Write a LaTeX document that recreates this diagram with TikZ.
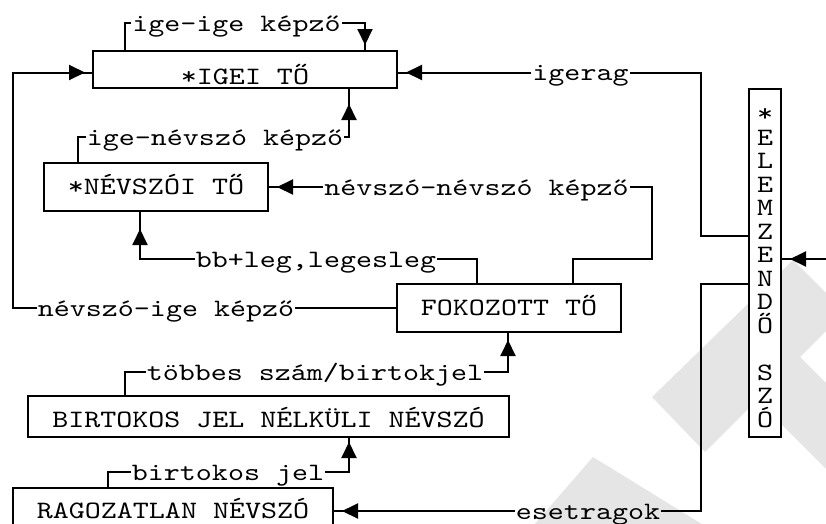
\documentclass[tikz,border=0pt]{standalone}
\usepackage{fontspec}
\newfontfamily\cour{lmmono10-regular}[Extension=.otf, FakeStretch=1.22]
\usetikzlibrary{arrows.meta,decorations.markings}
\begin{document}
\begin{tikzpicture}[x=1pt,y=-1pt,
  wire/.style={line width=2pt, line join=miter},
  framebox/.style={draw, line width=2pt, fill=white, inner sep=0pt,
    text height=15pt, text depth=0pt, font=\cour\fontsize{25}{30}\selectfont},
  tag/.style={inner xsep=1pt, inner ysep=0pt, text height=16pt, text depth=0pt,
    font=\cour\fontsize{25}{30}\selectfont},
  letter/.style={inner sep=0pt, text height=15pt, text depth=0pt,
    font=\cour\fontsize{25}{30}\selectfont},
  tipat/.style={postaction={decorate}, decoration={markings,
    mark=at position -#1 with {\arrow{Triangle[length=16pt,width=15pt]}}}},
  wmark/.style={fill=black!10}
]
\useasboundingbox (0,0) rectangle (826,523);
\clip (0,0) rectangle (826,523);

% light background marks
\fill[wmark] (652,397) -- (793,260) -- (826,293) -- (826,331) -- (800,357)
        -- (826,383) -- (826,469) -- (757,400) -- (705,452) -- cycle;
\fill[wmark] (593,457) -- (705,526) -- (533,526) -- cycle;

% boxes
\node[framebox, text height=29pt, minimum width=304pt, minimum height=37pt] (igei) at (245,69.5) {*IGEI TŐ};
\node[framebox, minimum width=224pt, minimum height=48pt] (nev) at (156,187) {*NÉVSZÓI TŐ};
\node[framebox, minimum width=224pt, minimum height=48pt] (fok) at (509,308) {FOKOZOTT TŐ};
\node[framebox, text height=21pt, minimum width=481pt, minimum height=41pt] (birt) at (268.5,416.5) {BIRTOKOS JEL NÉLKÜLI NÉVSZÓ};
\node[framebox, minimum width=320pt, minimum height=46pt] (rag) at (173,511) {RAGOZATLAN NÉVSZÓ};
\node[framebox, minimum width=32pt, minimum height=348pt] (elem) at (765,263) {};
\foreach \ch/\k in {*/0,E/1,L/2,E/3,M/4,Z/5,E/6,N/7,D/8,Ő/9,S/11,Z/12,Ó/13}
  \node[letter, anchor=base] (e\k) at (765,{121.5+23.5*\k}) {\ch};

% connector labels
\node[tag] (l1) at (236.5,23) {ige-ige képző};
\node[tag] (l2) at (215,137) {ige-névszó képző};
\node[tag] (l3) at (476.5,187) {névszó-névszó képző};
\node[tag] (l4) at (316,259) {bb+leg,legesleg};
\node[tag] (l5) at (166,308) {névszó-ige képző};
\node[tag] (l6) at (580.5,72.5) {igerag};
\node[tag] (l7) at (315,372) {többes szám/birtokjel};
\node[tag] (l8) at (228,472) {birtokos jel};
\node[tag] (l9) at (588,511) {esetragok};

% connectors
\draw[wire] (125,0 |- igei.north) |- (l1.west);
\draw[wire, tipat=5pt] (l1.east) -| (365,0 |- igei.north);

\draw[wire] (l2.west) -| (78,0 |- nev.north);
\draw[wire, tipat=15pt] (l2.east) -| (349,0 |- igei.south);

\draw[wire] (573,0 |- fok.north) |- (652,259) |- (l3.east);
\draw[wire, tipat=8pt] (l3.west) -- (nev.east);

\draw[wire] (477,0 |- fok.north) |- (l4.east);
\draw[wire, tipat=17pt] (l4.west) -| (140,0 |- nev.south);

\draw[wire] (fok.west) -- (l5.east);
\draw[wire, tipat=7pt] (l5.west) -| (13,72.5) -- (13,72.5 -| igei.west);

\draw[wire] (elem.west |- 0,236) -| (701,72.5) -- (l6.east);
\draw[wire, tipat=8pt] (l6.west) -- (l6.west -| igei.east);

\draw[wire] (125,0 |- birt.north) |- (l7.west);
\draw[wire, tipat=7pt] (l7.east) -| (508,0 |- fok.south);

\draw[wire] (108,0 |- rag.north) |- (l8.west);
\draw[wire, tipat=4pt] (l8.east) -| (349,0 |- birt.south);

\draw[wire] (elem.west |- 0,284) -| (701,511) -- (l9.east);
\draw[wire, tipat=8pt] (l9.west) -- (rag.east);

\coordinate (src) at (830,259);
\draw[wire, tipat=8pt] (src) -- (src -| elem.east);
\end{tikzpicture}
\end{document}
